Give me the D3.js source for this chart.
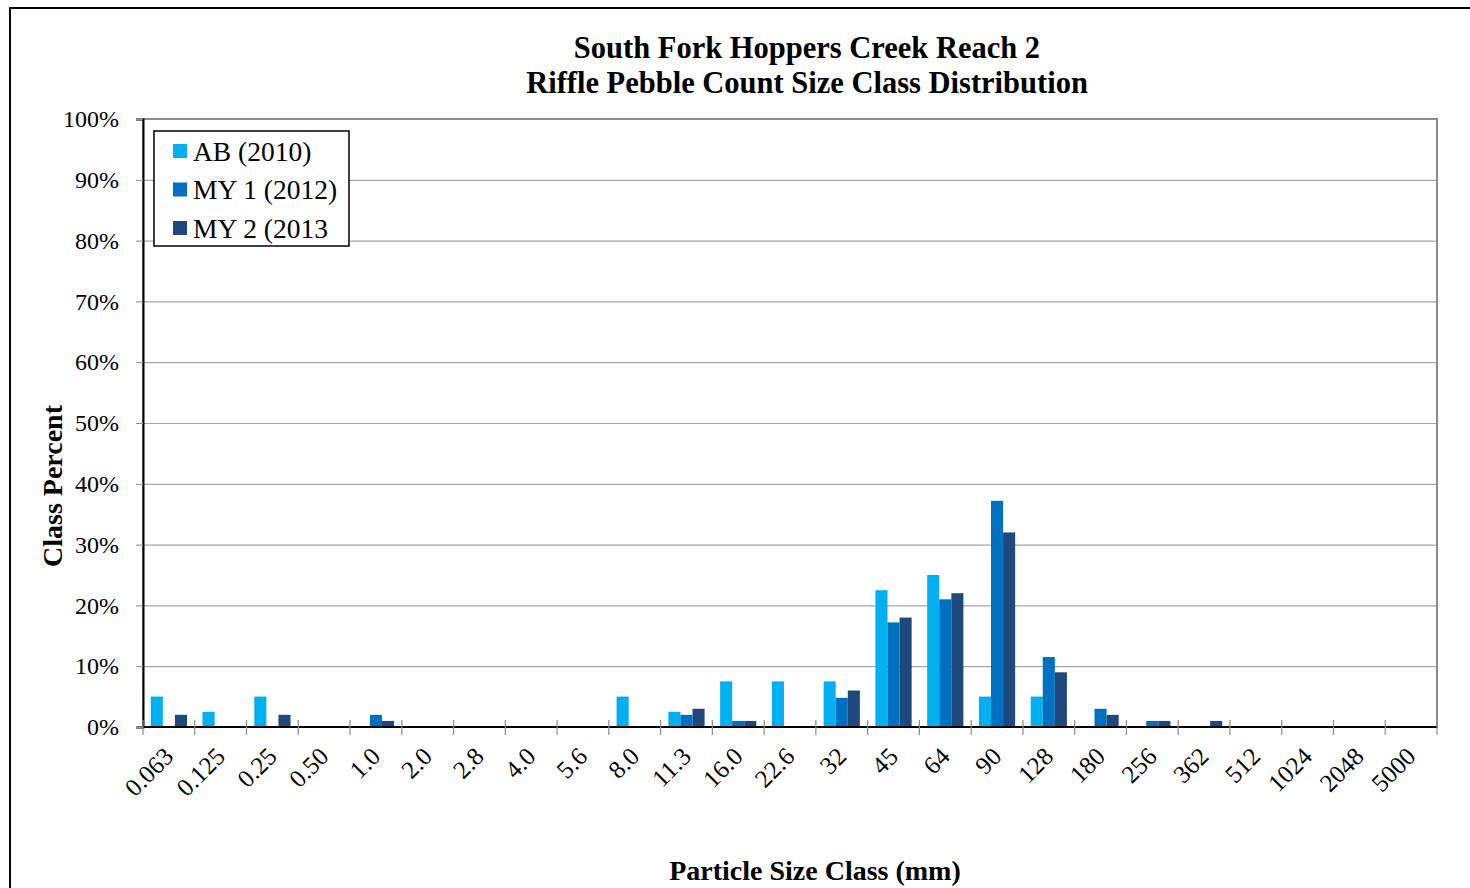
<!DOCTYPE html>
<html>
<head>
<meta charset="utf-8">
<script src="https://cdn.jsdelivr.net/npm/d3@7"></script>
<style>
  body { margin: 0; background: #fff; }
  svg text { font-family: 'Liberation Serif', 'Times New Roman', serif; fill: #000; }
</style>
</head>
<body>
<svg id="chart" width="1470" height="888"></svg>
<script>
// size classes (mm)
const categories = ['0.063', '0.125', '0.25', '0.50', '1.0', '2.0', '2.8', '4.0', '5.6', '8.0',
  '11.3', '16.0', '22.6', '32', '45', '64', '90', '128', '180', '256', '362', '512', '1024', '2048', '5000'];

const seriesNames = ['AB (2010)', 'MY 1 (2012)', 'MY 2 (2013'];
const seriesColors = ['#00B0F0', '#0070C0', '#1F497D'];

// class percent, one value per category
const ab2010 = [5, 2.5, 5, 0, 0, 0, 0, 0, 0, 5, 2.5, 7.5, 7.5, 7.5, 22.5, 25, 5, 5, 0, 0, 0, 0, 0, 0, 0];
const my1 = [0, 0, 0, 0, 2, 0, 0, 0, 0, 0, 2, 1, 0, 4.8, 17.2, 21, 37.2, 11.5, 3, 1, 0, 0, 0, 0, 0];
const my2 = [2, 0, 2, 0, 1, 0, 0, 0, 0, 0, 3, 1, 0, 6, 18, 22, 32, 9, 2, 1, 1, 0, 0, 0, 0];

const yTicks = [0, 10, 20, 30, 40, 50, 60, 70, 80, 90, 100];

const svg = d3.select('#chart');
const margin = { left: 143, right: 33, top: 119, bottom: 161 };
const width = 1470 - margin.left - margin.right;
const height = 888 - margin.top - margin.bottom;

// outer frame
svg.append('rect')
  .attr('x', 10).attr('y', 8)
  .attr('width', 1470).attr('height', 890)
  .attr('fill', 'none').attr('stroke', '#000').attr('stroke-width', 2);

const g = svg.append('g').attr('transform', `translate(${margin.left},${margin.top})`);

const x = d3.scaleBand().domain(categories).range([0, width]).padding(0);
const x1 = d3.scaleBand().domain(d3.range(3))
  .range([x.bandwidth() * 0.15, x.bandwidth() * 0.85]);
const y = d3.scaleLinear().domain([0, 100]).range([height, 0]);

// gridlines
g.append('g')
  .call(d3.axisLeft(y).tickValues(yTicks).tickSize(-width).tickFormat(''))
  .call(a => a.select('.domain').remove())
  .call(a => a.selectAll('.tick line').attr('stroke', '#a6a6a6').attr('stroke-width', 1.2));

// plot border (top/right grey)
g.append('rect')
  .attr('width', width).attr('height', height)
  .attr('fill', 'none').attr('stroke', '#8c8c8c').attr('stroke-width', 2);

// bars
const seriesData = [ab2010, my1, my2];
seriesData.forEach((vals, s) => {
  g.append('g').selectAll('rect')
    .data(vals.map((v, i) => ({ cat: categories[i], v })).filter(d => d.v > 0))
    .join('rect')
    .attr('x', d => x(d.cat) + x1(s))
    .attr('width', x1.bandwidth())
    .attr('y', d => y(d.v))
    .attr('height', d => height - y(d.v))
    .attr('fill', seriesColors[s]);
});

// y axis
const yAxis = g.append('g')
  .call(d3.axisLeft(y).tickValues(yTicks).tickSize(7).tickFormat(d => d + '%'));
yAxis.select('.domain').attr('stroke', '#000').attr('stroke-width', 2);
yAxis.selectAll('.tick line').attr('stroke', '#8c8c8c');
yAxis.selectAll('.tick text').attr('font-size', 24).attr('x', -24).attr('dy', '0.32em');

// x axis: ticks at class boundaries
const xAxis = g.append('g').attr('transform', `translate(0,${height})`);
xAxis.append('line').attr('x1', 0).attr('x2', width)
  .attr('stroke', '#000').attr('stroke-width', 2);
xAxis.selectAll('line.tk')
  .data(categories.concat(['end']))
  .join('line')
  .attr('class', 'tk')
  .attr('x1', (d, i) => i * x.step()).attr('x2', (d, i) => i * x.step())
  .attr('y1', -7).attr('y2', 8)
  .attr('stroke', '#8c8c8c').attr('stroke-width', 1.2);
xAxis.selectAll('text')
  .data(categories)
  .join('text')
  .attr('text-anchor', 'end')
  .attr('font-size', 25)
  .attr('transform', d => `translate(${x(d) + x.bandwidth() / 2 + 6},${31}) rotate(-45)`)
  .text(d => d);

// titles
svg.append('text')
  .attr('x', 807).attr('y', 58)
  .attr('text-anchor', 'middle').attr('font-size', 30.5).attr('font-weight', 700)
  .text('South Fork Hoppers Creek Reach 2');
svg.append('text')
  .attr('x', 807).attr('y', 93)
  .attr('text-anchor', 'middle').attr('font-size', 30.5).attr('font-weight', 700)
  .text('Riffle Pebble Count Size Class Distribution');

svg.append('text')
  .attr('transform', 'translate(62,486) rotate(-90)')
  .attr('text-anchor', 'middle').attr('font-size', 28).attr('font-weight', 700)
  .text('Class Percent');

svg.append('text')
  .attr('x', 815).attr('y', 880)
  .attr('text-anchor', 'middle').attr('font-size', 28).attr('font-weight', 700)
  .text('Particle Size Class (mm)');

// legend
const legend = svg.append('g').attr('transform', 'translate(154,131)');
legend.append('rect')
  .attr('width', 195).attr('height', 115)
  .attr('fill', '#fff').attr('stroke', '#000').attr('stroke-width', 1.5);
const item = legend.selectAll('g.item')
  .data(seriesNames)
  .join('g')
  .attr('class', 'item')
  .attr('transform', (d, i) => `translate(19,${20 + i * 38.5})`);
item.append('rect')
  .attr('x', 0).attr('y', -7).attr('width', 14).attr('height', 14)
  .attr('fill', (d, i) => seriesColors[i]);
item.append('text')
  .attr('x', 20).attr('dy', '0.35em').attr('font-size', 27.5)
  .text(d => d);
</script>
</body>
</html>
